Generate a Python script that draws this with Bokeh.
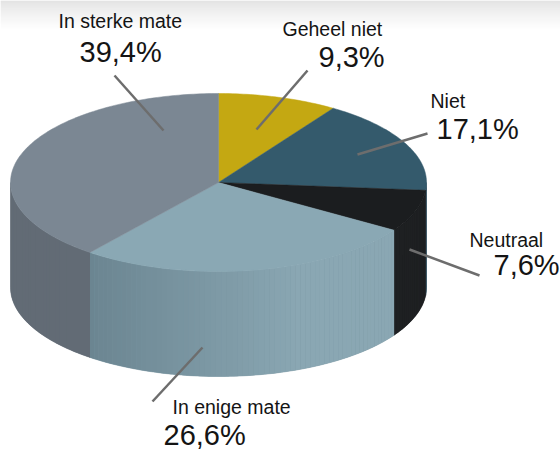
import numpy as np
from bokeh.plotting import figure
from bokeh.models import Range1d, ColumnDataSource
from bokeh.embed import file_html
from bokeh.resources import INLINE

# ---------------- data ----------------
categories = ["Geheel niet", "Niet", "Neutraal", "In enige mate", "In sterke mate"]
values = [9.3, 17.1, 7.6, 26.6, 39.4]
value_labels = [f"{v:.1f}".replace(".", ",") + "%" for v in values]

# ---------------- styles ----------------
top_colors = ["#C4A812", "#345A6C", "#1B1D1F", "#8AA8B4", "#7B8793"]
side_dark = ["#9A840E", "#294858", "#1A1C1E", "#6B8591", "#626B75"]
side_light = ["#9A840E", "#2C4C5C", "#1E2022", "#8AA7B3", "#68717B"]

# geometry of the pie (pixel coordinates)
CX, CY, RX, RY, DEPTH = 218.0, 182.0, 208.0, 89.0, 105.0
NAME_SIZE, VALUE_SIZE = 19.5, 29.0
BASE_FIX = 0.4  # baseline correction as a fraction of the font size

# label layout: (name x, name baseline, value x, value baseline, line x0, y0, x1, y1)
label_layout = {
    "Geheel niet": (282, 36, 318, 68, 256, 129, 307, 70),
    "Niet": (430, 108, 436, 140, 427, 133, 357, 154),
    "Neutraal": (469, 247, 493, 276, 409, 249, 479, 275),
    "In enige mate": (172, 414, 163, 446, 152, 401, 202, 347),
    "In sterke mate": (58, 28, 79, 63, 114, 75, 163, 130),
}

W, H = 560, 452
p = figure(width=W, height=H, output_backend="svg", toolbar_location=None,
           x_range=Range1d(0, W), y_range=Range1d(H, 0),
           min_border=0, outline_line_color=None)
p.axis.visible = False
p.grid.visible = False
p.background_fill_color = "white"
p.border_fill_color = "white"


def hexmix(c1, c2, f):
    a = np.array([int(c1[i:i + 2], 16) for i in (1, 3, 5)], float)
    b = np.array([int(c2[i:i + 2], 16) for i in (1, 3, 5)], float)
    c = a + (b - a) * f
    return "#%02x%02x%02x" % tuple(int(round(v)) for v in c)


# top light-grey gradient band
n_band = 30
for i in range(n_band):
    f = i / (n_band - 1)
    p.quad(left=0, right=W, top=i, bottom=i + 1,
           fill_color=hexmix("#D9D9D9", "#FFFFFF", f ** 0.8), line_color=None)


def pt(t, dy=0.0):
    return CX + RX * np.sin(t), CY - RY * np.cos(t) + dy


fracs = np.array(values) / sum(values)
starts = np.concatenate([[0], np.cumsum(fracs)[:-1]]) * 2 * np.pi
ends = np.cumsum(fracs) * 2 * np.pi

# ---------------- sides ----------------
bxs, bys, bcol = [], [], []
sxs, sys_, scol = [], [], []
step = np.radians(1.5)
for i in range(len(values)):
    a = max(starts[i], np.pi / 2)
    b = min(ends[i], 3 * np.pi / 2)
    if b <= a:
        continue
    tt = np.linspace(a, b, 80)
    xt, yt = pt(tt)
    xb, yb = pt(tt[::-1], DEPTH)
    bxs.append(list(xt) + list(xb))
    bys.append(list(yt) + list(yb))
    bcol.append(hexmix(side_dark[i], side_light[i], 0.5))
    n = max(1, int(np.ceil((b - a) / step)))
    ts = np.linspace(a, b, n + 1)
    for k in range(n):
        t0, t1 = ts[k], ts[k + 1]
        tt = np.linspace(t0, t1, 4)
        xt, yt = pt(tt)
        xb, yb = pt(tt[::-1], DEPTH)
        xm = CX + RX * np.sin((t0 + t1) / 2)
        f = np.clip((xm - 90) / (300 - 90), 0, 1)
        col = hexmix(side_dark[i], side_light[i], f)
        sxs.append(list(xt) + list(xb))
        sys_.append(list(yt) + list(yb))
        scol.append(col)
p.patches(xs="xs", ys="ys", fill_color="c", line_color="c", line_width=0.5,
          source=ColumnDataSource(dict(xs=bxs, ys=bys, c=bcol)))
p.patches(xs="xs", ys="ys", fill_color="c", line_color=None,
          source=ColumnDataSource(dict(xs=sxs, ys=sys_, c=scol)))

# ---------------- tops ----------------
txs, tys = [], []
for i in range(len(values)):
    tt = np.linspace(starts[i], ends[i], max(8, int((ends[i] - starts[i]) / np.radians(1)) + 2))
    x, y = pt(tt)
    txs.append([CX] + list(x))
    tys.append([CY] + list(y))
p.patches(xs="xs", ys="ys", fill_color="c", line_color="c", line_width=0.5,
          source=ColumnDataSource(dict(xs=txs, ys=tys, c=top_colors)))

# ---------------- labels ----------------
for name, lab in zip(categories, value_labels):
    nx, ny, vx, vy, x0, y0, x1, y1 = label_layout[name]
    p.line([x0, x1], [y0, y1], line_color="#6D6D6D", line_width=2.5)
    p.text(x=[nx], y=[ny - BASE_FIX * NAME_SIZE], text=[name],
           text_font_size=f"{NAME_SIZE}px",
           text_font={"value": "Liberation Sans"}, text_color="#141414",
           text_baseline="alphabetic", text_align="left")
    p.text(x=[vx], y=[vy - BASE_FIX * VALUE_SIZE], text=[lab],
           text_font_size=f"{VALUE_SIZE}px",
           text_font={"value": "Liberation Sans"}, text_color="#141414",
           text_baseline="alphabetic", text_align="left")

open("out.html", "w").write(file_html(p, INLINE))
